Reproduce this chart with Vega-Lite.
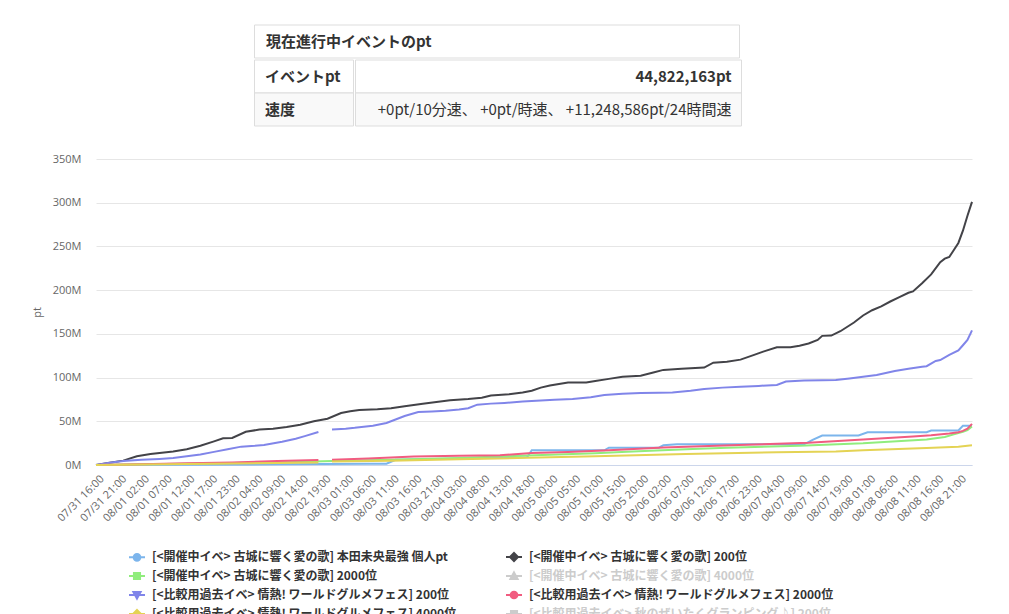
{
  "$schema": "https://vega.github.io/schema/vega-lite/v6.json",
  "padding": {"left": 31, "top": 24, "right": 10, "bottom": 0},
  "background": "#ffffff",
  "config": {
    "view": {"stroke": null},
    "font": "Open Sans"
  },
  "datasets": {
    "summary": [
      {"item": "イベントpt", "value": "44,822,163pt"},
      {"item": "速度", "value": "+0pt/10分速、 +0pt/時速、 +11,248,586pt/24時間速"}
    ],
    "points": [
      {"idx": 0, "series": "[<開催中イベ> 古城に響く愛の歌] 本田未央最強 個人pt", "pt": 0},
      {"idx": 20, "series": "[<開催中イベ> 古城に響く愛の歌] 本田未央最強 個人pt", "pt": 300000},
      {"idx": 40, "series": "[<開催中イベ> 古城に響く愛の歌] 本田未央最強 個人pt", "pt": 800000},
      {"idx": 60, "series": "[<開催中イベ> 古城に響く愛の歌] 本田未央最強 個人pt", "pt": 1300000},
      {"idx": 64, "series": "[<開催中イベ> 古城に響く愛の歌] 本田未央最強 個人pt", "pt": 1500000},
      {"idx": 66, "series": "[<開催中イベ> 古城に響く愛の歌] 本田未央最強 個人pt", "pt": 6000000},
      {"idx": 80, "series": "[<開催中イベ> 古城に響く愛の歌] 本田未央最強 個人pt", "pt": 7500000},
      {"idx": 95, "series": "[<開催中イベ> 古城に響く愛の歌] 本田未央最強 個人pt", "pt": 9000000},
      {"idx": 96, "series": "[<開催中イベ> 古城に響く愛の歌] 本田未央最強 個人pt", "pt": 16800000},
      {"idx": 112, "series": "[<開催中イベ> 古城に響く愛の歌] 本田未央最強 個人pt", "pt": 16800000},
      {"idx": 113, "series": "[<開催中イベ> 古城に響く愛の歌] 本田未央最強 個人pt", "pt": 19800000},
      {"idx": 124, "series": "[<開催中イベ> 古城に響く愛の歌] 本田未央最強 個人pt", "pt": 19800000},
      {"idx": 125, "series": "[<開催中イベ> 古城に響く愛の歌] 本田未央最強 個人pt", "pt": 22500000},
      {"idx": 128, "series": "[<開催中イベ> 古城に響く愛の歌] 本田未央最強 個人pt", "pt": 23600000},
      {"idx": 156, "series": "[<開催中イベ> 古城に響く愛の歌] 本田未央最強 個人pt", "pt": 23600000},
      {"idx": 158, "series": "[<開催中イベ> 古城に響く愛の歌] 本田未央最強 個人pt", "pt": 29000000},
      {"idx": 160, "series": "[<開催中イベ> 古城に響く愛の歌] 本田未央最強 個人pt", "pt": 33700000},
      {"idx": 168, "series": "[<開催中イベ> 古城に響く愛の歌] 本田未央最強 個人pt", "pt": 33700000},
      {"idx": 170, "series": "[<開催中イベ> 古城に響く愛の歌] 本田未央最強 個人pt", "pt": 37500000},
      {"idx": 183, "series": "[<開催中イベ> 古城に響く愛の歌] 本田未央最強 個人pt", "pt": 37500000},
      {"idx": 184, "series": "[<開催中イベ> 古城に響く愛の歌] 本田未央最強 個人pt", "pt": 39400000},
      {"idx": 190, "series": "[<開催中イベ> 古城に響く愛の歌] 本田未央最強 個人pt", "pt": 39400000},
      {"idx": 191, "series": "[<開催中イベ> 古城に響く愛の歌] 本田未央最強 個人pt", "pt": 44800000},
      {"idx": 193, "series": "[<開催中イベ> 古城に響く愛の歌] 本田未央最強 個人pt", "pt": 44822163},

      {"idx": 0, "series": "[<開催中イベ> 古城に響く愛の歌] 200位", "pt": 0},
      {"idx": 3, "series": "[<開催中イベ> 古城に響く愛の歌] 200位", "pt": 2500000},
      {"idx": 6, "series": "[<開催中イベ> 古城に響く愛の歌] 200位", "pt": 5000000},
      {"idx": 9, "series": "[<開催中イベ> 古城に響く愛の歌] 200位", "pt": 10000000},
      {"idx": 12, "series": "[<開催中イベ> 古城に響く愛の歌] 200位", "pt": 12500000},
      {"idx": 17, "series": "[<開催中イベ> 古城に響く愛の歌] 200位", "pt": 15400000},
      {"idx": 20, "series": "[<開催中イベ> 古城に響く愛の歌] 200位", "pt": 18000000},
      {"idx": 23, "series": "[<開催中イベ> 古城に響く愛の歌] 200位", "pt": 22000000},
      {"idx": 26, "series": "[<開催中イベ> 古城に響く愛の歌] 200位", "pt": 27000000},
      {"idx": 28, "series": "[<開催中イベ> 古城に響く愛の歌] 200位", "pt": 30500000},
      {"idx": 30, "series": "[<開催中イベ> 古城に響く愛の歌] 200位", "pt": 31000000},
      {"idx": 33, "series": "[<開催中イベ> 古城に響く愛の歌] 200位", "pt": 38000000},
      {"idx": 36, "series": "[<開催中イベ> 古城に響く愛の歌] 200位", "pt": 40500000},
      {"idx": 39, "series": "[<開催中イベ> 古城に響く愛の歌] 200位", "pt": 41500000},
      {"idx": 42, "series": "[<開催中イベ> 古城に響く愛の歌] 200位", "pt": 43500000},
      {"idx": 45, "series": "[<開催中イベ> 古城に響く愛の歌] 200位", "pt": 46000000},
      {"idx": 48, "series": "[<開催中イベ> 古城に響く愛の歌] 200位", "pt": 50000000},
      {"idx": 51, "series": "[<開催中イベ> 古城に響く愛の歌] 200位", "pt": 53000000},
      {"idx": 54, "series": "[<開催中イベ> 古城に響く愛の歌] 200位", "pt": 59500000},
      {"idx": 56, "series": "[<開催中イベ> 古城に響く愛の歌] 200位", "pt": 61500000},
      {"idx": 58, "series": "[<開催中イベ> 古城に響く愛の歌] 200位", "pt": 62800000},
      {"idx": 62, "series": "[<開催中イベ> 古城に響く愛の歌] 200位", "pt": 63800000},
      {"idx": 65, "series": "[<開催中イベ> 古城に響く愛の歌] 200位", "pt": 65000000},
      {"idx": 68, "series": "[<開催中イベ> 古城に響く愛の歌] 200位", "pt": 67200000},
      {"idx": 72, "series": "[<開催中イベ> 古城に響く愛の歌] 200位", "pt": 70000000},
      {"idx": 75, "series": "[<開催中イベ> 古城に響く愛の歌] 200位", "pt": 72000000},
      {"idx": 78, "series": "[<開催中イベ> 古城に響く愛の歌] 200位", "pt": 74000000},
      {"idx": 82, "series": "[<開催中イベ> 古城に響く愛の歌] 200位", "pt": 75500000},
      {"idx": 85, "series": "[<開催中イベ> 古城に響く愛の歌] 200位", "pt": 77000000},
      {"idx": 87, "series": "[<開催中イベ> 古城に響く愛の歌] 200位", "pt": 79500000},
      {"idx": 91, "series": "[<開催中イベ> 古城に響く愛の歌] 200位", "pt": 81000000},
      {"idx": 94, "series": "[<開催中イベ> 古城に響く愛の歌] 200位", "pt": 83000000},
      {"idx": 96, "series": "[<開催中イベ> 古城に響く愛の歌] 200位", "pt": 85000000},
      {"idx": 98, "series": "[<開催中イベ> 古城に響く愛の歌] 200位", "pt": 88500000},
      {"idx": 100, "series": "[<開催中イベ> 古城に響く愛の歌] 200位", "pt": 91000000},
      {"idx": 104, "series": "[<開催中イベ> 古城に響く愛の歌] 200位", "pt": 94300000},
      {"idx": 108, "series": "[<開催中イベ> 古城に響く愛の歌] 200位", "pt": 94300000},
      {"idx": 110, "series": "[<開催中イベ> 古城に響く愛の歌] 200位", "pt": 96200000},
      {"idx": 113, "series": "[<開催中イベ> 古城に響く愛の歌] 200位", "pt": 98500000},
      {"idx": 116, "series": "[<開催中イベ> 古城に響く愛の歌] 200位", "pt": 101000000},
      {"idx": 120, "series": "[<開催中イベ> 古城に響く愛の歌] 200位", "pt": 102000000},
      {"idx": 123, "series": "[<開催中イベ> 古城に響く愛の歌] 200位", "pt": 106000000},
      {"idx": 125, "series": "[<開催中イベ> 古城に響く愛の歌] 200位", "pt": 108800000},
      {"idx": 129, "series": "[<開催中イベ> 古城に響く愛の歌] 200位", "pt": 110000000},
      {"idx": 134, "series": "[<開催中イベ> 古城に響く愛の歌] 200位", "pt": 111400000},
      {"idx": 136, "series": "[<開催中イベ> 古城に響く愛の歌] 200位", "pt": 117000000},
      {"idx": 139, "series": "[<開催中イベ> 古城に響く愛の歌] 200位", "pt": 118000000},
      {"idx": 142, "series": "[<開催中イベ> 古城に響く愛の歌] 200位", "pt": 120500000},
      {"idx": 145, "series": "[<開催中イベ> 古城に響く愛の歌] 200位", "pt": 126000000},
      {"idx": 147, "series": "[<開催中イベ> 古城に響く愛の歌] 200位", "pt": 129700000},
      {"idx": 150, "series": "[<開催中イベ> 古城に響く愛の歌] 200位", "pt": 134600000},
      {"idx": 153, "series": "[<開催中イベ> 古城に響く愛の歌] 200位", "pt": 134600000},
      {"idx": 155, "series": "[<開催中イベ> 古城に響く愛の歌] 200位", "pt": 136500000},
      {"idx": 157, "series": "[<開催中イベ> 古城に響く愛の歌] 200位", "pt": 139000000},
      {"idx": 159, "series": "[<開催中イベ> 古城に響く愛の歌] 200位", "pt": 143000000},
      {"idx": 160, "series": "[<開催中イベ> 古城に響く愛の歌] 200位", "pt": 147700000},
      {"idx": 162, "series": "[<開催中イベ> 古城に響く愛の歌] 200位", "pt": 148000000},
      {"idx": 164, "series": "[<開催中イベ> 古城に響く愛の歌] 200位", "pt": 153000000},
      {"idx": 167, "series": "[<開催中イベ> 古城に響く愛の歌] 200位", "pt": 163000000},
      {"idx": 169, "series": "[<開催中イベ> 古城に響く愛の歌] 200位", "pt": 171000000},
      {"idx": 171, "series": "[<開催中イベ> 古城に響く愛の歌] 200位", "pt": 177000000},
      {"idx": 173, "series": "[<開催中イベ> 古城に響く愛の歌] 200位", "pt": 181500000},
      {"idx": 175, "series": "[<開催中イベ> 古城に響く愛の歌] 200位", "pt": 187000000},
      {"idx": 177, "series": "[<開催中イベ> 古城に響く愛の歌] 200位", "pt": 192000000},
      {"idx": 179, "series": "[<開催中イベ> 古城に響く愛の歌] 200位", "pt": 197000000},
      {"idx": 180, "series": "[<開催中イベ> 古城に響く愛の歌] 200位", "pt": 198500000},
      {"idx": 182, "series": "[<開催中イベ> 古城に響く愛の歌] 200位", "pt": 208000000},
      {"idx": 184, "series": "[<開催中イベ> 古城に響く愛の歌] 200位", "pt": 218000000},
      {"idx": 186, "series": "[<開催中イベ> 古城に響く愛の歌] 200位", "pt": 232000000},
      {"idx": 187, "series": "[<開催中イベ> 古城に響く愛の歌] 200位", "pt": 236000000},
      {"idx": 188, "series": "[<開催中イベ> 古城に響く愛の歌] 200位", "pt": 238000000},
      {"idx": 189, "series": "[<開催中イベ> 古城に響く愛の歌] 200位", "pt": 246000000},
      {"idx": 190, "series": "[<開催中イベ> 古城に響く愛の歌] 200位", "pt": 254000000},
      {"idx": 191, "series": "[<開催中イベ> 古城に響く愛の歌] 200位", "pt": 268000000},
      {"idx": 192, "series": "[<開催中イベ> 古城に響く愛の歌] 200位", "pt": 285000000},
      {"idx": 193, "series": "[<開催中イベ> 古城に響く愛の歌] 200位", "pt": 301000000},

      {"idx": 0, "series": "[<開催中イベ> 古城に響く愛の歌] 2000位", "pt": 0},
      {"idx": 10, "series": "[<開催中イベ> 古城に響く愛の歌] 2000位", "pt": 800000},
      {"idx": 20, "series": "[<開催中イベ> 古城に響く愛の歌] 2000位", "pt": 1500000},
      {"idx": 30, "series": "[<開催中イベ> 古城に響く愛の歌] 2000位", "pt": 2300000},
      {"idx": 40, "series": "[<開催中イベ> 古城に響く愛の歌] 2000位", "pt": 3000000},
      {"idx": 50, "series": "[<開催中イベ> 古城に響く愛の歌] 2000位", "pt": 4300000},
      {"idx": 52, "series": "[<開催中イベ> 古城に響く愛の歌] 2000位", "pt": 4500000},
      {"idx": 65, "series": "[<開催中イベ> 古城に響く愛の歌] 2000位", "pt": 6000000},
      {"idx": 80, "series": "[<開催中イベ> 古城に響く愛の歌] 2000位", "pt": 8000000},
      {"idx": 95, "series": "[<開催中イベ> 古城に響く愛の歌] 2000位", "pt": 10900000},
      {"idx": 110, "series": "[<開催中イベ> 古城に響く愛の歌] 2000位", "pt": 13500000},
      {"idx": 117, "series": "[<開催中イベ> 古城に響く愛の歌] 2000位", "pt": 15200000},
      {"idx": 130, "series": "[<開催中イベ> 古城に響く愛の歌] 2000位", "pt": 18000000},
      {"idx": 139, "series": "[<開催中イベ> 古城に響く愛の歌] 2000位", "pt": 19800000},
      {"idx": 155, "series": "[<開催中イベ> 古城に響く愛の歌] 2000位", "pt": 22000000},
      {"idx": 169, "series": "[<開催中イベ> 古城に響く愛の歌] 2000位", "pt": 24800000},
      {"idx": 183, "series": "[<開催中イベ> 古城に響く愛の歌] 2000位", "pt": 29300000},
      {"idx": 187, "series": "[<開催中イベ> 古城に響く愛の歌] 2000位", "pt": 32000000},
      {"idx": 189, "series": "[<開催中イベ> 古城に響く愛の歌] 2000位", "pt": 35000000},
      {"idx": 191, "series": "[<開催中イベ> 古城に響く愛の歌] 2000位", "pt": 38000000},
      {"idx": 192, "series": "[<開催中イベ> 古城に響く愛の歌] 2000位", "pt": 40000000},
      {"idx": 193, "series": "[<開催中イベ> 古城に響く愛の歌] 2000位", "pt": 44000000},

      {"idx": 0, "series": "[<比較用過去イベ> 情熱! ワールドグルメフェス] 200位", "pt": 0},
      {"idx": 3, "series": "[<比較用過去イベ> 情熱! ワールドグルメフェス] 200位", "pt": 2500000},
      {"idx": 6, "series": "[<比較用過去イベ> 情熱! ワールドグルメフェス] 200位", "pt": 4500000},
      {"idx": 10, "series": "[<比較用過去イベ> 情熱! ワールドグルメフェス] 200位", "pt": 6000000},
      {"idx": 14, "series": "[<比較用過去イベ> 情熱! ワールドグルメフェス] 200位", "pt": 7000000},
      {"idx": 17, "series": "[<比較用過去イベ> 情熱! ワールドグルメフェス] 200位", "pt": 8000000},
      {"idx": 20, "series": "[<比較用過去イベ> 情熱! ワールドグルメフェス] 200位", "pt": 10000000},
      {"idx": 23, "series": "[<比較用過去イベ> 情熱! ワールドグルメフェス] 200位", "pt": 12000000},
      {"idx": 26, "series": "[<比較用過去イベ> 情熱! ワールドグルメフェス] 200位", "pt": 15000000},
      {"idx": 29, "series": "[<比較用過去イベ> 情熱! ワールドグルメフェス] 200位", "pt": 18000000},
      {"idx": 32, "series": "[<比較用過去イベ> 情熱! ワールドグルメフェス] 200位", "pt": 21000000},
      {"idx": 35, "series": "[<比較用過去イベ> 情熱! ワールドグルメフェス] 200位", "pt": 22000000},
      {"idx": 37, "series": "[<比較用過去イベ> 情熱! ワールドグルメフェス] 200位", "pt": 23000000},
      {"idx": 41, "series": "[<比較用過去イベ> 情熱! ワールドグルメフェス] 200位", "pt": 26500000},
      {"idx": 44, "series": "[<比較用過去イベ> 情熱! ワールドグルメフェス] 200位", "pt": 30000000},
      {"idx": 46, "series": "[<比較用過去イベ> 情熱! ワールドグルメフェス] 200位", "pt": 33000000},
      {"idx": 49, "series": "[<比較用過去イベ> 情熱! ワールドグルメフェス] 200位", "pt": 37700000},
      {"idx": 50, "series": "[<比較用過去イベ> 情熱! ワールドグルメフェス] 200位", "pt": null},
      {"idx": 51, "series": "[<比較用過去イベ> 情熱! ワールドグルメフェス] 200位", "pt": null},
      {"idx": 52, "series": "[<比較用過去イベ> 情熱! ワールドグルメフェス] 200位", "pt": 40700000},
      {"idx": 55, "series": "[<比較用過去イベ> 情熱! ワールドグルメフェス] 200位", "pt": 41500000},
      {"idx": 57, "series": "[<比較用過去イベ> 情熱! ワールドグルメフェス] 200位", "pt": 42500000},
      {"idx": 61, "series": "[<比較用過去イベ> 情熱! ワールドグルメフェス] 200位", "pt": 45000000},
      {"idx": 64, "series": "[<比較用過去イベ> 情熱! ワールドグルメフェス] 200位", "pt": 48000000},
      {"idx": 66, "series": "[<比較用過去イベ> 情熱! ワールドグルメフェス] 200位", "pt": 52000000},
      {"idx": 68, "series": "[<比較用過去イベ> 情熱! ワールドグルメフェス] 200位", "pt": 56000000},
      {"idx": 71, "series": "[<比較用過去イベ> 情熱! ワールドグルメフェス] 200位", "pt": 60600000},
      {"idx": 74, "series": "[<比較用過去イベ> 情熱! ワールドグルメフェス] 200位", "pt": 61200000},
      {"idx": 77, "series": "[<比較用過去イベ> 情熱! ワールドグルメフェス] 200位", "pt": 62000000},
      {"idx": 80, "series": "[<比較用過去イベ> 情熱! ワールドグルメフェス] 200位", "pt": 63500000},
      {"idx": 82, "series": "[<比較用過去イベ> 情熱! ワールドグルメフェス] 200位", "pt": 65000000},
      {"idx": 84, "series": "[<比較用過去イベ> 情熱! ワールドグルメフェス] 200位", "pt": 69000000},
      {"idx": 87, "series": "[<比較用過去イベ> 情熱! ワールドグルメフェス] 200位", "pt": 70200000},
      {"idx": 90, "series": "[<比較用過去イベ> 情熱! ワールドグルメフェス] 200位", "pt": 71000000},
      {"idx": 94, "series": "[<比較用過去イベ> 情熱! ワールドグルメフェス] 200位", "pt": 72500000},
      {"idx": 97, "series": "[<比較用過去イベ> 情熱! ワールドグルメフェス] 200位", "pt": 73500000},
      {"idx": 101, "series": "[<比較用過去イベ> 情熱! ワールドグルメフェス] 200位", "pt": 74500000},
      {"idx": 105, "series": "[<比較用過去イベ> 情熱! ワールドグルメフェス] 200位", "pt": 75600000},
      {"idx": 109, "series": "[<比較用過去イベ> 情熱! ワールドグルメフェス] 200位", "pt": 77500000},
      {"idx": 112, "series": "[<比較用過去イベ> 情熱! ワールドグルメフェス] 200位", "pt": 80000000},
      {"idx": 116, "series": "[<比較用過去イベ> 情熱! ワールドグルメフェス] 200位", "pt": 81500000},
      {"idx": 120, "series": "[<比較用過去イベ> 情熱! ワールドグルメフェス] 200位", "pt": 82300000},
      {"idx": 124, "series": "[<比較用過去イベ> 情熱! ワールドグルメフェス] 200位", "pt": 82600000},
      {"idx": 127, "series": "[<比較用過去イベ> 情熱! ワールドグルメフェス] 200位", "pt": 83000000},
      {"idx": 131, "series": "[<比較用過去イベ> 情熱! ワールドグルメフェス] 200位", "pt": 85000000},
      {"idx": 134, "series": "[<比較用過去イベ> 情熱! ワールドグルメフェス] 200位", "pt": 87000000},
      {"idx": 138, "series": "[<比較用過去イベ> 情熱! ワールドグルメフェス] 200位", "pt": 88500000},
      {"idx": 142, "series": "[<比較用過去イベ> 情熱! ワールドグルメフェス] 200位", "pt": 89500000},
      {"idx": 146, "series": "[<比較用過去イベ> 情熱! ワールドグルメフェス] 200位", "pt": 90500000},
      {"idx": 150, "series": "[<比較用過去イベ> 情熱! ワールドグルメフェス] 200位", "pt": 91600000},
      {"idx": 152, "series": "[<比較用過去イベ> 情熱! ワールドグルメフェス] 200位", "pt": 95400000},
      {"idx": 156, "series": "[<比較用過去イベ> 情熱! ワールドグルメフェス] 200位", "pt": 96600000},
      {"idx": 160, "series": "[<比較用過去イベ> 情熱! ワールドグルメフェス] 200位", "pt": 97000000},
      {"idx": 163, "series": "[<比較用過去イベ> 情熱! ワールドグルメフェス] 200位", "pt": 97300000},
      {"idx": 166, "series": "[<比較用過去イベ> 情熱! ワールドグルメフェス] 200位", "pt": 99000000},
      {"idx": 169, "series": "[<比較用過去イベ> 情熱! ワールドグルメフェス] 200位", "pt": 101000000},
      {"idx": 172, "series": "[<比較用過去イベ> 情熱! ワールドグルメフェス] 200位", "pt": 103000000},
      {"idx": 176, "series": "[<比較用過去イベ> 情熱! ワールドグルメフェス] 200位", "pt": 107600000},
      {"idx": 179, "series": "[<比較用過去イベ> 情熱! ワールドグルメフェス] 200位", "pt": 110000000},
      {"idx": 182, "series": "[<比較用過去イベ> 情熱! ワールドグルメフェス] 200位", "pt": 112500000},
      {"idx": 183, "series": "[<比較用過去イベ> 情熱! ワールドグルメフェス] 200位", "pt": 113000000},
      {"idx": 185, "series": "[<比較用過去イベ> 情熱! ワールドグルメフェス] 200位", "pt": 119000000},
      {"idx": 186, "series": "[<比較用過去イベ> 情熱! ワールドグルメフェス] 200位", "pt": 120000000},
      {"idx": 188, "series": "[<比較用過去イベ> 情熱! ワールドグルメフェス] 200位", "pt": 126000000},
      {"idx": 190, "series": "[<比較用過去イベ> 情熱! ワールドグルメフェス] 200位", "pt": 131000000},
      {"idx": 191, "series": "[<比較用過去イベ> 情熱! ワールドグルメフェス] 200位", "pt": 137000000},
      {"idx": 192, "series": "[<比較用過去イベ> 情熱! ワールドグルメフェス] 200位", "pt": 143000000},
      {"idx": 193, "series": "[<比較用過去イベ> 情熱! ワールドグルメフェス] 200位", "pt": 154000000},

      {"idx": 0, "series": "[<比較用過去イベ> 情熱! ワールドグルメフェス] 2000位", "pt": 0},
      {"idx": 10, "series": "[<比較用過去イベ> 情熱! ワールドグルメフェス] 2000位", "pt": 1000000},
      {"idx": 20, "series": "[<比較用過去イベ> 情熱! ワールドグルメフェス] 2000位", "pt": 2000000},
      {"idx": 30, "series": "[<比較用過去イベ> 情熱! ワールドグルメフェス] 2000位", "pt": 3000000},
      {"idx": 40, "series": "[<比較用過去イベ> 情熱! ワールドグルメフェス] 2000位", "pt": 4500000},
      {"idx": 49, "series": "[<比較用過去イベ> 情熱! ワールドグルメフェス] 2000位", "pt": 5700000},
      {"idx": 50, "series": "[<比較用過去イベ> 情熱! ワールドグルメフェス] 2000位", "pt": null},
      {"idx": 51, "series": "[<比較用過去イベ> 情熱! ワールドグルメフェス] 2000位", "pt": null},
      {"idx": 52, "series": "[<比較用過去イベ> 情熱! ワールドグルメフェス] 2000位", "pt": 6100000},
      {"idx": 60, "series": "[<比較用過去イベ> 情熱! ワールドグルメフェス] 2000位", "pt": 7500000},
      {"idx": 70, "series": "[<比較用過去イベ> 情熱! ワールドグルメフェス] 2000位", "pt": 9700000},
      {"idx": 80, "series": "[<比較用過去イベ> 情熱! ワールドグルメフェス] 2000位", "pt": 10500000},
      {"idx": 89, "series": "[<比較用過去イベ> 情熱! ワールドグルメフェス] 2000位", "pt": 11200000},
      {"idx": 96, "series": "[<比較用過去イベ> 情熱! ワールドグルメフェス] 2000位", "pt": 13800000},
      {"idx": 104, "series": "[<比較用過去イベ> 情熱! ワールドグルメフェス] 2000位", "pt": 15000000},
      {"idx": 113, "series": "[<比較用過去イベ> 情熱! ワールドグルメフェス] 2000位", "pt": 16800000},
      {"idx": 125, "series": "[<比較用過去イベ> 情熱! ワールドグルメフェス] 2000位", "pt": 20000000},
      {"idx": 135, "series": "[<比較用過去イベ> 情熱! ワールドグルメフェス] 2000位", "pt": 21700000},
      {"idx": 145, "series": "[<比較用過去イベ> 情熱! ワールドグルメフェス] 2000位", "pt": 23500000},
      {"idx": 157, "series": "[<比較用過去イベ> 情熱! ワールドグルメフェス] 2000位", "pt": 25500000},
      {"idx": 169, "series": "[<比較用過去イベ> 情熱! ワールドグルメフェス] 2000位", "pt": 29300000},
      {"idx": 180, "series": "[<比較用過去イベ> 情熱! ワールドグルメフェス] 2000位", "pt": 32500000},
      {"idx": 184, "series": "[<比較用過去イベ> 情熱! ワールドグルメフェス] 2000位", "pt": 34000000},
      {"idx": 188, "series": "[<比較用過去イベ> 情熱! ワールドグルメフェス] 2000位", "pt": 36000000},
      {"idx": 190, "series": "[<比較用過去イベ> 情熱! ワールドグルメフェス] 2000位", "pt": 37500000},
      {"idx": 191, "series": "[<比較用過去イベ> 情熱! ワールドグルメフェス] 2000位", "pt": 39000000},
      {"idx": 192, "series": "[<比較用過去イベ> 情熱! ワールドグルメフェス] 2000位", "pt": 41500000},
      {"idx": 193, "series": "[<比較用過去イベ> 情熱! ワールドグルメフェス] 2000位", "pt": 47000000},

      {"idx": 0, "series": "[<比較用過去イベ> 情熱! ワールドグルメフェス] 4000位", "pt": 0},
      {"idx": 10, "series": "[<比較用過去イベ> 情熱! ワールドグルメフェス] 4000位", "pt": 600000},
      {"idx": 20, "series": "[<比較用過去イベ> 情熱! ワールドグルメフェス] 4000位", "pt": 1200000},
      {"idx": 30, "series": "[<比較用過去イベ> 情熱! ワールドグルメフェス] 4000位", "pt": 1800000},
      {"idx": 40, "series": "[<比較用過去イベ> 情熱! ワールドグルメフェス] 4000位", "pt": 2400000},
      {"idx": 49, "series": "[<比較用過去イベ> 情熱! ワールドグルメフェス] 4000位", "pt": 3000000},
      {"idx": 50, "series": "[<比較用過去イベ> 情熱! ワールドグルメフェス] 4000位", "pt": null},
      {"idx": 51, "series": "[<比較用過去イベ> 情熱! ワールドグルメフェス] 4000位", "pt": null},
      {"idx": 52, "series": "[<比較用過去イベ> 情熱! ワールドグルメフェス] 4000位", "pt": 4000000},
      {"idx": 65, "series": "[<比較用過去イベ> 情熱! ワールドグルメフェス] 4000位", "pt": 5000000},
      {"idx": 80, "series": "[<比較用過去イベ> 情熱! ワールドグルメフェス] 4000位", "pt": 6500000},
      {"idx": 95, "series": "[<比較用過去イベ> 情熱! ワールドグルメフェス] 4000位", "pt": 8300000},
      {"idx": 110, "series": "[<比較用過去イベ> 情熱! ワールドグルメフェス] 4000位", "pt": 10000000},
      {"idx": 130, "series": "[<比較用過去イベ> 情熱! ワールドグルメフェス] 4000位", "pt": 12500000},
      {"idx": 150, "series": "[<比較用過去イベ> 情熱! ワールドグルメフェス] 4000位", "pt": 14500000},
      {"idx": 163, "series": "[<比較用過去イベ> 情熱! ワールドグルメフェス] 4000位", "pt": 15500000},
      {"idx": 169, "series": "[<比較用過去イベ> 情熱! ワールドグルメフェス] 4000位", "pt": 17000000},
      {"idx": 183, "series": "[<比較用過去イベ> 情熱! ワールドグルメフェス] 4000位", "pt": 19500000},
      {"idx": 190, "series": "[<比較用過去イベ> 情熱! ワールドグルメフェス] 4000位", "pt": 21000000},
      {"idx": 193, "series": "[<比較用過去イベ> 情熱! ワールドグルメフェス] 4000位", "pt": 22500000}
    ]
  },
  "center": true,
  "spacing": 26,
  "vconcat": [
    {
      "spacing": 0,
      "hconcat": [
        {
          "spacing": 0,
          "vconcat": [
            {
              "width": 485,
              "height": 33,
              "data": {"values": [{"title": "現在進行中イベントのpt"}]},
              "layer": [
                {
                  "mark": {"type": "rect", "fill": "#ffffff", "stroke": "#dddddd"},
                  "encoding": {}
                },
                {
                  "mark": {"type": "text", "align": "left", "dx": -231, "font": "Noto Sans CJK JP", "fontSize": 15, "fontWeight": "bold", "color": "#333333"},
                  "encoding": {"text": {"field": "title"}}
                }
              ]
            },
            {
              "spacing": 0,
              "hconcat": [
                {
                  "width": 99,
                  "height": 66,
                  "data": {"name": "summary"},
                  "encoding": {
                    "y": {"field": "item", "type": "nominal", "sort": null, "axis": null, "scale": {"paddingInner": 0, "paddingOuter": 0}}
                  },
                  "layer": [
                    {
                      "mark": {"type": "rect", "stroke": "#dddddd"},
                      "encoding": {"color": {"condition": {"test": "datum.item === '速度'", "value": "#f9f9f9"}, "value": "#ffffff"}}
                    },
                    {
                      "mark": {"type": "text", "align": "left", "dx": -39, "font": "Noto Sans CJK JP", "fontSize": 15, "fontWeight": "bold", "color": "#333333"},
                      "encoding": {"text": {"field": "item"}}
                    }
                  ]
                },
                {
                  "width": 386,
                  "height": 66,
                  "data": {"name": "summary"},
                  "encoding": {
                    "y": {"field": "item", "type": "nominal", "sort": null, "axis": null, "scale": {"paddingInner": 0, "paddingOuter": 0}}
                  },
                  "layer": [
                    {
                      "mark": {"type": "rect", "stroke": "#dddddd"},
                      "encoding": {"color": {"condition": {"test": "datum.item === '速度'", "value": "#f9f9f9"}, "value": "#ffffff"}}
                    },
                    {
                      "transform": [{"filter": "datum.item === 'イベントpt'"}],
                      "mark": {"type": "text", "align": "right", "dx": 183, "font": "Noto Sans CJK JP", "fontSize": 15, "fontWeight": "bold", "color": "#333333"},
                      "encoding": {"text": {"field": "value"}}
                    },
                    {
                      "transform": [{"filter": "datum.item === '速度'"}],
                      "mark": {"type": "text", "align": "right", "dx": 183, "font": "Noto Sans CJK JP", "fontSize": 15, "fontWeight": "normal", "color": "#333333"},
                      "encoding": {"text": {"field": "value"}}
                    }
                  ]
                }
              ]
            }
          ]
        },
        {
          "width": 75,
          "height": 1,
          "data": {"values": [{"blank": ""}]},
          "mark": {"type": "rect", "opacity": 0},
          "encoding": {}
        }
      ]
    },
    {
      "width": 876,
      "height": 306,
      "data": {"name": "points"},
      "mark": {"type": "line", "strokeWidth": 2, "invalid": "break-paths-filter-domains"},
      "encoding": {
        "x": {
          "field": "idx",
          "type": "quantitative",
          "scale": {"domain": [0, 193], "nice": false, "zero": false},
          "axis": {
            "title": null,
            "values": [0, 5, 10, 15, 20, 25, 30, 35, 40, 45, 50, 55, 60, 65, 70, 75, 80, 85, 90, 95, 100, 105, 110, 115, 120, 125, 130, 135, 140, 145, 150, 155, 160, 165, 170, 175, 180, 185, 190],
            "labelExpr": "['07/31 16:00','07/31 21:00','08/01 02:00','08/01 07:00','08/01 12:00','08/01 17:00','08/01 23:00','08/02 04:00','08/02 09:00','08/02 14:00','08/02 19:00','08/03 01:00','08/03 06:00','08/03 11:00','08/03 16:00','08/03 21:00','08/04 03:00','08/04 08:00','08/04 13:00','08/04 18:00','08/05 00:00','08/05 05:00','08/05 10:00','08/05 15:00','08/05 20:00','08/06 02:00','08/06 07:00','08/06 12:00','08/06 17:00','08/06 23:00','08/07 04:00','08/07 09:00','08/07 14:00','08/07 19:00','08/08 01:00','08/08 06:00','08/08 11:00','08/08 16:00','08/08 21:00'][round(datum.value / 5)]",
            "labelAngle": -45,
            "labelAlign": "right",
            "labelBaseline": "middle",
            "labelPadding": 12,
            "labelOffset": 6,
            "labelFlush": false,
            "labelOverlap": false,
            "labelBound": false,
            "labelFont": "Open Sans",
            "labelFontSize": 11,
            "labelColor": "#666666",
            "ticks": false,
            "grid": false,
            "domainColor": "#ccd6eb"
          }
        },
        "y": {
          "field": "pt",
          "type": "quantitative",
          "scale": {"domain": [0, 350000000], "nice": false},
          "axis": {
            "title": "pt",
            "values": [0, 50000000, 100000000, 150000000, 200000000, 250000000, 300000000, 350000000],
            "format": "~s",
            "ticks": false,
            "domain": false,
            "gridColor": "#e6e6e6",
            "labelFont": "Open Sans",
            "labelFontSize": 11,
            "labelColor": "#666666",
            "labelPadding": 15,
            "titleFont": "Open Sans",
            "titleFontSize": 11,
            "titleFontWeight": "normal",
            "titleColor": "#666666",
            "titlePadding": 10
          }
        },
        "color": {
          "field": "series",
          "type": "nominal",
          "scale": {
            "domain": [
              "[<開催中イベ> 古城に響く愛の歌] 本田未央最強 個人pt",
              "[<開催中イベ> 古城に響く愛の歌] 200位",
              "[<開催中イベ> 古城に響く愛の歌] 2000位",
              "[<開催中イベ> 古城に響く愛の歌] 4000位",
              "[<比較用過去イベ> 情熱! ワールドグルメフェス] 200位",
              "[<比較用過去イベ> 情熱! ワールドグルメフェス] 2000位",
              "[<比較用過去イベ> 情熱! ワールドグルメフェス] 4000位",
              "[<比較用過去イベ> 秋のぜいたくグランピング♪] 200位"
            ],
            "range": ["#7cb5ec", "#434348", "#90ed7d", "#cccccc", "#8085e9", "#f15c80", "#e4d354", "#cccccc"]
          },
          "legend": {
            "title": null,
            "orient": "none",
            "legendX": 32,
            "legendY": 523,
            "direction": "horizontal",
            "columns": 2,
            "columnPadding": 45,
            "rowPadding": 2,
            "symbolSize": 256,
            "symbolStrokeWidth": 2,
            "labelFont": "Noto Sans CJK JP",
            "labelFontSize": 12,
            "labelFontWeight": "bold",
            "labelColor": "#333333",
            "labelLimit": 0,
            "labelOffset": 6,
            "encode": {
              "symbols": {
                "update": {
                  "shape": {"signal": "['M-1,0H1M0.42,0A0.42,0.42,0,1,1,-0.42,0A0.42,0.42,0,1,1,0.42,0Z','M-1,0H1M0,-0.5L0.5,0L0,0.5L-0.5,0Z','M-1,0H1M-0.38,-0.38H0.38V0.38H-0.38Z','M-1,0H1M0,-0.45L0.45,0.38H-0.45Z','M-1,0H1M0,0.45L0.45,-0.38H-0.45Z','M-1,0H1M0.42,0A0.42,0.42,0,1,1,-0.42,0A0.42,0.42,0,1,1,0.42,0Z','M-1,0H1M0,-0.5L0.5,0L0,0.5L-0.5,0Z','M-1,0H1M-0.38,-0.38H0.38V0.38H-0.38Z'][datum.index]"},
                  "fill": {"signal": "['#7cb5ec','#434348','#90ed7d','#cccccc','#8085e9','#f15c80','#e4d354','#cccccc'][datum.index]"},
                  "stroke": {"signal": "['#7cb5ec','#434348','#90ed7d','#cccccc','#8085e9','#f15c80','#e4d354','#cccccc'][datum.index]"},
                  "opacity": {"value": 1}
                }
              },
              "labels": {
                "update": {
                  "fill": {"signal": "datum.index === 3 || datum.index === 7 ? '#cccccc' : '#333333'"}
                }
              }
            }
          }
        }
      }
    }
  ]
}
